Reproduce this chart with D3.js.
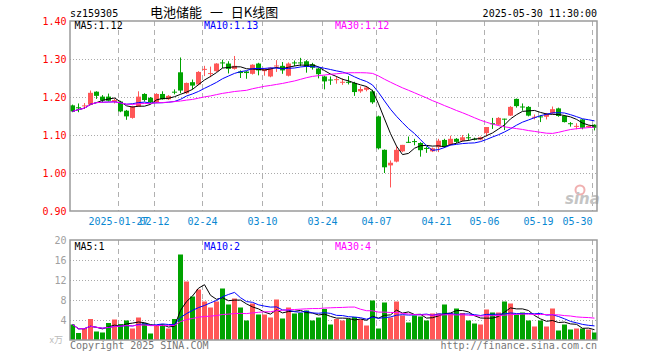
<!DOCTYPE html>
<html><head><meta charset="utf-8">
<script src="https://cdn.jsdelivr.net/npm/d3@7/dist/d3.min.js"></script>
<style>html,body{margin:0;padding:0;background:#fff;}svg{display:block;}</style>
</head><body>
<svg id="c" width="660" height="360"></svg>
<script>
const dates = [
"2025-01-15","2025-01-16","2025-01-17","2025-01-20","2025-01-21","2025-01-22","2025-01-23","2025-01-24","2025-01-27",
"2025-02-05","2025-02-06","2025-02-07","2025-02-10","2025-02-11","2025-02-12","2025-02-13","2025-02-14","2025-02-17","2025-02-18","2025-02-19","2025-02-20","2025-02-21","2025-02-24","2025-02-25","2025-02-26","2025-02-27","2025-02-28",
"2025-03-03","2025-03-04","2025-03-05","2025-03-06","2025-03-07","2025-03-10","2025-03-11","2025-03-12","2025-03-13","2025-03-14","2025-03-17","2025-03-18","2025-03-19","2025-03-20","2025-03-21","2025-03-24","2025-03-25","2025-03-26","2025-03-27","2025-03-28","2025-03-31",
"2025-04-01","2025-04-02","2025-04-03","2025-04-07","2025-04-08","2025-04-09","2025-04-10","2025-04-11","2025-04-14","2025-04-15","2025-04-16","2025-04-17","2025-04-18","2025-04-21","2025-04-22","2025-04-23","2025-04-24","2025-04-25","2025-04-28","2025-04-29","2025-04-30",
"2025-05-06","2025-05-07","2025-05-08","2025-05-09","2025-05-12","2025-05-13","2025-05-14","2025-05-15","2025-05-16","2025-05-19","2025-05-20","2025-05-21","2025-05-22","2025-05-23","2025-05-26","2025-05-27","2025-05-28","2025-05-29","2025-05-30"];

const open = [1.178,1.173,1.176,1.180,1.214,1.201,1.201,1.187,1.188,1.164,1.145,1.175,1.208,1.198,1.186,1.208,1.194,1.214,1.265,1.210,1.239,1.233,1.273,1.262,1.268,
1.291,1.288,1.274,1.267,1.267,1.261,1.288,1.268,1.254,1.282,1.282,1.256,1.291,1.291,1.294,1.286,1.275,1.254,1.246,1.246,1.239,1.240,1.237,1.215,1.219,1.215,1.149,1.061,1.020,1.030,1.057,1.082,1.084,1.079,1.066,1.057,1.068,
1.087,1.074,1.090,1.085,1.094,1.090,1.088,1.105,1.131,1.127,1.143,1.151,1.195,1.175,1.174,1.147,1.149,1.148,1.157,1.170,1.150,1.131,1.123,1.141,1.121,1.127];
const high = [1.180,1.183,1.184,1.217,1.215,1.205,1.209,1.196,1.190,1.166,1.177,1.215,1.210,1.200,1.210,1.215,1.205,1.220,1.304,1.238,1.246,1.268,1.282,1.280,1.289,
1.298,1.294,1.308,1.270,1.268,1.286,1.290,1.276,1.278,1.297,1.292,1.291,1.296,1.303,1.297,1.290,1.277,1.256,1.254,1.255,1.249,1.255,1.240,1.228,1.229,1.219,1.151,1.062,1.033,1.070,1.074,1.096,1.090,1.081,1.070,1.067,1.090,
1.090,1.098,1.092,1.100,1.104,1.093,1.096,1.121,1.145,1.147,1.143,1.176,1.196,1.183,1.176,1.154,1.152,1.158,1.175,1.172,1.152,1.134,1.131,1.142,1.125,1.128];
const low = [1.160,1.160,1.169,1.178,1.195,1.186,1.188,1.183,1.160,1.140,1.143,1.174,1.188,1.184,1.184,1.193,1.192,1.207,1.210,1.208,1.220,1.231,1.255,1.252,1.266,
1.276,1.262,1.272,1.250,1.248,1.259,1.257,1.256,1.252,1.266,1.261,1.254,1.281,1.281,1.264,1.272,1.249,1.220,1.232,1.235,1.232,1.233,1.203,1.211,1.215,1.182,1.062,1.000,0.962,1.028,1.055,1.079,1.073,1.043,1.053,1.055,1.055,
1.066,1.072,1.079,1.083,1.085,1.086,1.086,1.096,1.116,1.125,1.113,1.150,1.172,1.164,1.149,1.141,1.134,1.141,1.155,1.148,1.133,1.122,1.115,1.115,1.119,1.112];
const close = [1.162,1.172,1.178,1.211,1.203,1.191,1.190,1.192,1.162,1.149,1.175,1.201,1.192,1.186,1.208,1.194,1.203,1.213,1.217,1.237,1.230,1.266,1.274,1.263,1.288,
1.290,1.274,1.282,1.263,1.263,1.285,1.270,1.274,1.277,1.283,1.270,1.288,1.290,1.290,1.279,1.277,1.260,1.241,1.245,1.247,1.240,1.239,1.213,1.221,1.225,1.186,1.065,1.015,1.027,1.061,1.074,1.081,1.083,1.060,1.065,1.065,1.085,
1.069,1.090,1.082,1.094,1.093,1.089,1.094,1.121,1.130,1.145,1.142,1.174,1.176,1.174,1.151,1.148,1.148,1.156,1.168,1.150,1.134,1.130,1.124,1.119,1.124,1.119];
const volume = [3.1,1.4,2.3,4.2,1.7,1.5,3.4,4.1,3.2,3.9,2.3,4.5,3.4,1.3,2.9,3.1,2.3,4.2,17.1,11.7,8.7,10.1,7.7,6.5,7.7,
10.3,7.1,8.3,6.5,3.9,7.3,5.1,5.1,4.5,8.1,4.3,6.5,5.3,5.4,5.9,3.9,4.5,6.2,3.1,4.2,3.9,4.2,4.6,4.1,2.9,7.9,2.3,7.5,4.5,7.7,4.9,3.5,4.9,4.7,3.9,5.3,5.3,
7.1,5.4,6.3,5.4,3.9,3.3,3.1,6.1,5.5,5.5,7.7,7.3,5.1,5.5,3.9,2.7,3.9,2.7,6.3,1.9,3.1,2.1,2.3,2.3,2.1,1.5];

const priceTicks = [1.40,1.30,1.20,1.10,1.00,0.90];
const volTicks = [20,16,12,8,4];
const tickDates = ["2025-01-27","2025-02-12","2025-02-24","2025-03-10","2025-03-24","2025-04-07","2025-04-21","2025-05-06","2025-05-19","2025-05-30"];
const tickLabels = ["2025-01-27","02-12","02-24","03-10","03-24","04-07","04-21","05-06","05-19","05-30"];
const maPeriods = [5,10,30];
const priceMaLabels = ["MA5:1.12","MA10:1.13","MA30:1.12"];
const volMaLabels = ["MA5:1","MA10:2","MA30:4"];

const svg = d3.select("#c");
const MONO = "'DejaVu Sans Mono', 'Liberation Mono', monospace";
const L = 70, R = 597, PT = 21, PB = 211, VT = 240, VB = 340;
const RED = "#ff5757", GREEN = "#00a300";
const maColors = ["#000000","#0000ff","#ff00ff"];

const x = d3.scaleBand().domain(dates).range([69.5, 597.5]);
const cx = d => x(d) + x.bandwidth()/2;
const y = d3.scaleLinear().domain([0.9,1.4]).range([PB, PT]);
const yv = d3.scaleLinear().domain([0,20]).range([VB, VT]);

function ma(arr, n){ return arr.map((v,i)=>{ const s = arr.slice(Math.max(0,i-n+1), i+1); return d3.mean(s); }); }

const data = dates.map((d,i)=>({d, o:open[i], h:high[i], l:low[i], c:close[i], v:volume[i]}));
const col = r => r.c >= r.o ? RED : GREEN;

// Grid: price
const g = svg.append("g");
g.selectAll(".hg").data(priceTicks.filter(t=>t<1.39 && t>0.91)).join("line")
  .attr("x1",L).attr("x2",R).attr("y1",t=>Math.round(y(t))+0.5).attr("y2",t=>Math.round(y(t))+0.5)
  .attr("stroke","#aaa").attr("stroke-dasharray","1,2");
g.selectAll(".vg").data(tickDates).join("line")
  .attr("x1",d=>x(d)+1).attr("x2",d=>x(d)+1).attr("y1",PT).attr("y2",PB)
  .attr("stroke","#b0b0b0").attr("stroke-dasharray","5,4");
// Grid: volume
g.selectAll(".hgv").data(volTicks.filter(t=>t<20)).join("line")
  .attr("x1",L).attr("x2",R).attr("y1",t=>yv(t)+0.5).attr("y2",t=>yv(t)+0.5)
  .attr("stroke","#aaa").attr("stroke-dasharray","1,2");
g.selectAll(".vgv").data(tickDates).join("line")
  .attr("x1",d=>x(d)+1).attr("x2",d=>x(d)+1).attr("y1",VT).attr("y2",VB)
  .attr("stroke","#b0b0b0").attr("stroke-dasharray","5,4");

// sina watermark
svg.append("circle").attr("cx",580).attr("cy",190).attr("r",4.5).attr("fill","none").attr("stroke","#f0b0b0").attr("stroke-width",2);
svg.append("text").attr("x",565).attr("y",204).attr("font-family","'DejaVu Sans',sans-serif").attr("font-style","italic").attr("font-weight","bold")
  .attr("font-size",15).attr("fill","#c4c4c4").text("sina");

// Candles
const cg = svg.append("g");
cg.selectAll(".wick").data(data).join("line")
  .attr("x1",r=>cx(r.d)).attr("x2",r=>cx(r.d)).attr("y1",r=>y(r.h)).attr("y2",r=>y(r.l))
  .attr("stroke",col).attr("stroke-width",1);
cg.selectAll(".body").data(data).join("rect")
  .attr("x",r=>cx(r.d)-2.5).attr("width",5)
  .attr("y",r=>y(Math.max(r.o,r.c)))
  .attr("height",r=>Math.max(1, y(Math.min(r.o,r.c))-y(Math.max(r.o,r.c))))
  .attr("fill",col);

// Price MAs
maPeriods.forEach((n,k)=>{
  const m = ma(close,n);
  svg.append("path").datum(m).attr("fill","none").attr("stroke",maColors[k]).attr("stroke-width",1)
    .attr("d", d3.line().x((v,i)=>cx(dates[i])).y(v=>y(v)));
});

// Volume bars
svg.append("g").selectAll("rect").data(data).join("rect")
  .attr("x",r=>cx(r.d)-2.5).attr("width",5).attr("y",r=>yv(r.v)).attr("height",r=>VB-yv(r.v)).attr("fill",col);
maPeriods.forEach((n,k)=>{
  const m = ma(volume,n);
  svg.append("path").datum(m).attr("fill","none").attr("stroke",maColors[k]).attr("stroke-width",1)
    .attr("d", d3.line().x((v,i)=>cx(dates[i])).y(v=>yv(v)));
});

// Frames
[[PT,PB],[VT,VB]].forEach(([t,b])=>{
  svg.append("rect").attr("x",L).attr("y",t).attr("width",R-L).attr("height",b-t)
    .attr("fill","none").attr("stroke","#9a9a9a").attr("stroke-width",1.5);
});

// Axis labels
svg.append("g").selectAll("text").data(priceTicks).join("text")
  .attr("x",66.5).attr("y",t=>y(t)+3.6).attr("text-anchor","end")
  .attr("font-family",MONO).attr("font-size",10).attr("fill","#ff0000").text(t=>t.toFixed(2));
svg.append("g").selectAll("text").data(volTicks).join("text")
  .attr("x",66.5).attr("y",t=>yv(t)+3.6).attr("text-anchor","end")
  .attr("font-family",MONO).attr("font-size",10).attr("fill","#a0a0a0").text(t=>t);
svg.append("text").attr("x",63).attr("y",343).attr("text-anchor","end").attr("font-family","'Noto Sans CJK SC',sans-serif")
  .attr("font-size",9).attr("fill","#bbb").text("x万");

svg.append("g").selectAll("text").data(tickDates).join("text")
  .attr("x",d=>x(d)+1)
  .attr("y",225)
  .attr("text-anchor",(d,i)=> (x(d)+1 + tickLabels[i].length*3 > R) ? "end" : "middle")
  .attr("font-family",MONO).attr("font-size",10).attr("fill","#0a88d2").text((d,i)=>tickLabels[i]);

// Header
svg.append("text").attr("x",70).attr("y",16.6).attr("font-family",MONO).attr("font-size",10).attr("fill","#000").text("sz159305");
svg.append("text").attr("x",150).attr("y",17).attr("font-family","'Noto Sans CJK SC',sans-serif").attr("font-size",13)
  .attr("word-spacing",5).attr("fill","#000").text("电池储能 一 日K线图");
svg.append("text").attr("x",597).attr("y",16.6).attr("text-anchor","end").attr("font-family",MONO).attr("font-size",10).attr("fill","#000").text("2025-05-30 11:30:00");

const legX = [74.5,204,335];
priceMaLabels.forEach((t,k)=>svg.append("text").attr("x",legX[k]).attr("y",29.3).attr("font-family",MONO).attr("font-size",10).attr("fill",maColors[k]).text(t));
volMaLabels.forEach((t,k)=>svg.append("text").attr("x",legX[k]).attr("y",250).attr("font-family",MONO).attr("font-size",10).attr("fill",maColors[k]).text(t));

svg.append("text").attr("x",70).attr("y",349).attr("font-family",MONO).attr("font-size",10).attr("fill","#777").text("Copyright 2025 SINA.COM");
svg.append("text").attr("x",597).attr("y",349).attr("text-anchor","end").attr("font-family",MONO).attr("font-size",10).attr("fill","#777").text("http://finance.sina.com.cn");
</script>
</body></html>
